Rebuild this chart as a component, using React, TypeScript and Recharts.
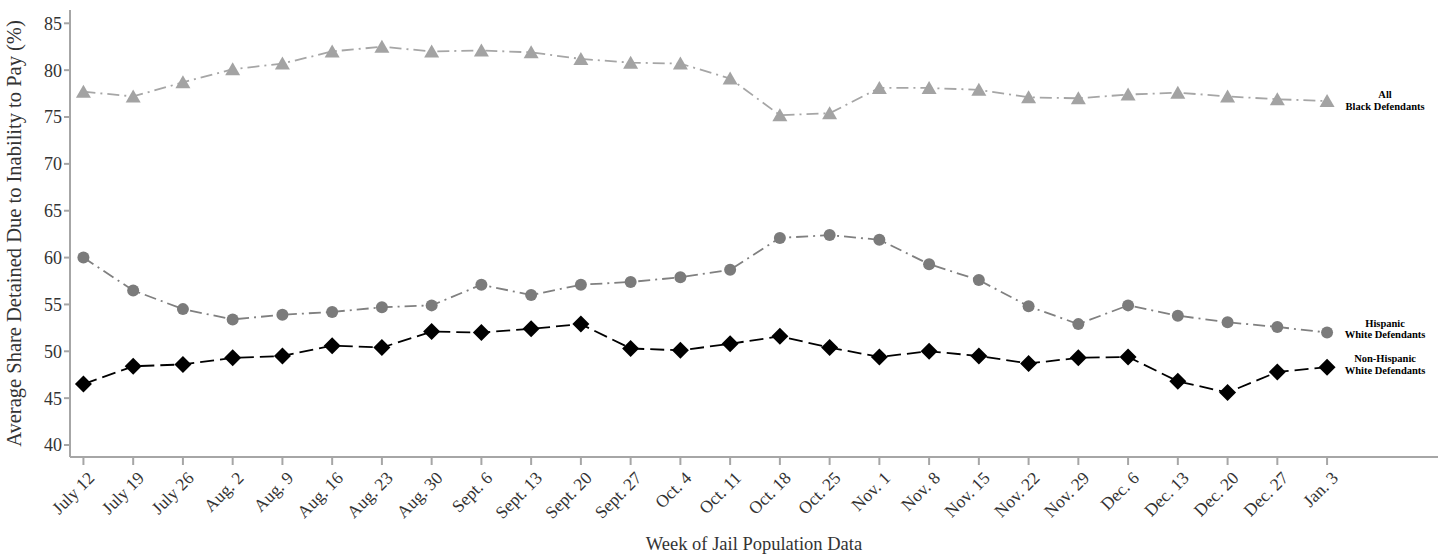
import { LineChart, Line, XAxis, YAxis, LabelList } from "recharts"

const weeks = [
  "July 12", "July 19", "July 26", "Aug. 2", "Aug. 9", "Aug. 16", "Aug. 23", "Aug. 30",
  "Sept. 6", "Sept. 13", "Sept. 20", "Sept. 27", "Oct. 4", "Oct. 11", "Oct. 18", "Oct. 25",
  "Nov. 1", "Nov. 8", "Nov. 15", "Nov. 22", "Nov. 29", "Dec. 6", "Dec. 13", "Dec. 20",
  "Dec. 27", "Jan. 3",
]

const blackDefendants = [
  77.7, 77.2, 78.7, 80.1, 80.7, 82.0, 82.5, 82.0, 82.1, 81.9, 81.2, 80.8, 80.7,
  79.1, 75.2, 75.4, 78.1, 78.1, 77.9, 77.1, 77.0, 77.4, 77.6, 77.2, 76.9, 76.7,
]

const hispanicWhite = [
  60.0, 56.5, 54.5, 53.4, 53.9, 54.2, 54.7, 54.9, 57.1, 56.0, 57.1, 57.4, 57.9,
  58.7, 62.1, 62.4, 61.9, 59.3, 57.6, 54.8, 52.9, 54.9, 53.8, 53.1, 52.6, 52.0,
]

const nonHispanicWhite = [
  46.5, 48.4, 48.6, 49.3, 49.5, 50.6, 50.4, 52.1, 52.0, 52.4, 52.9, 50.3, 50.1,
  50.8, 51.6, 50.4, 49.4, 50.0, 49.5, 48.7, 49.3, 49.4, 46.8, 45.6, 47.8, 48.3,
]

const yTicks = [40, 45, 50, 55, 60, 65, 70, 75, 80, 85]

const seriesLabels = {
  black: ["All", "Black Defendants"],
  hispanic: ["Hispanic", "White Defendants"],
  nonHispanic: ["Non-Hispanic", "White Defendants"],
}

const data = weeks.map((w, i) => ({
  i,
  week: w,
  black: blackDefendants[i],
  hispanic: hispanicWhite[i],
  nonHispanic: nonHispanicWhite[i],
}))

const FONT = "'Liberation Serif', 'Times New Roman', serif"

function Triangle(props: any) {
  const { cx, cy } = props
  if (cx == null || cy == null) return null
  return <polygon points={`${cx},${cy - 7} ${cx - 7.5},${cy + 6} ${cx + 7.5},${cy + 6}`} fill="#a3a3a3" />
}

function Diamond(props: any) {
  const { cx, cy } = props
  if (cx == null || cy == null) return null
  return <polygon points={`${cx},${cy - 8.5} ${cx + 8.5},${cy} ${cx},${cy + 8.5} ${cx - 8.5},${cy}`} fill="#000" />
}

function XTick(props: any) {
  const { x, y, payload } = props
  const tx = x + 3
  const ty = y + 3
  return (
    <text
      x={tx}
      y={ty}
      transform={`rotate(-45, ${tx}, ${ty})`}
      textAnchor="end"
      dominantBaseline="hanging"
      style={{ fontFamily: FONT, fontSize: 17.5, fill: "#333" }}
    >
      {weeks[payload.value]}
    </text>
  )
}

function endLabel(lines: string[], dy: number) {
  return (props: any) => {
    const { x, y, index } = props
    if (index !== weeks.length - 1) return null
    return (
      <text
        x={x + 58}
        y={y + dy}
        textAnchor="middle"
        style={{ fontFamily: FONT, fontSize: 10.5, fontWeight: "bold", fill: "#000" }}
      >
        <tspan x={x + 58} dy={0}>{lines[0]}</tspan>
        <tspan x={x + 58} dy={11.5}>{lines[1]}</tspan>
      </text>
    )
  }
}

export default function App() {
  return (
    <div style={{ position: "absolute", left: 0, top: 0 }}>
      <LineChart width={1449} height={556} data={data} margin={{ top: 10, right: 11, left: 0, bottom: 0 }}>
        <XAxis
          dataKey="i"
          type="number"
          domain={[-0.27, 27.23]}
          ticks={weeks.map((_, i) => i)}
          interval={0}
          allowDataOverflow
          height={99}
          stroke="#a6a6a6"
          strokeWidth={2}
          tickSize={8}
          tick={<XTick />}
          label={{
            value: "Week of Jail Population Data",
            position: "insideBottom",
            offset: 6,
            style: { fontFamily: FONT, fontSize: 18.5, fill: "#333" },
          }}
        />
        <YAxis
          type="number"
          domain={[38.72, 86.42]}
          ticks={yTicks}
          allowDataOverflow
          width={70}
          stroke="#a6a6a6"
          strokeWidth={2}
          tickSize={6}
          tick={{ fontFamily: FONT, fontSize: 18, fill: "#333" }}
          label={{
            value: "Average Share Detained Due to Inability to Pay (%)",
            angle: -90,
            position: "insideLeft",
            offset: 14,
            style: { textAnchor: "middle", fontFamily: FONT, fontSize: 20.5, fill: "#333" },
          }}
        />
        <Line
          dataKey="black"
          stroke="#a6a6a6"
          strokeWidth={1.8}
          strokeDasharray="12 5 2 5"
          dot={<Triangle />}
          activeDot={false}
          isAnimationActive={false}
        >
          <LabelList dataKey="black" content={endLabel(seriesLabels.black, -3)} />
        </Line>
        <Line
          dataKey="hispanic"
          stroke="#808080"
          strokeWidth={1.8}
          strokeDasharray="12 5 2 5"
          dot={{ r: 6, fill: "#7b7b7b", stroke: "none" }}
          activeDot={false}
          isAnimationActive={false}
        >
          <LabelList dataKey="hispanic" content={endLabel(seriesLabels.hispanic, -6)} />
        </Line>
        <Line
          dataKey="nonHispanic"
          stroke="#000"
          strokeWidth={1.8}
          strokeDasharray="14 6"
          dot={<Diamond />}
          activeDot={false}
          isAnimationActive={false}
        >
          <LabelList dataKey="nonHispanic" content={endLabel(seriesLabels.nonHispanic, -5)} />
        </Line>
      </LineChart>
    </div>
  )
}
